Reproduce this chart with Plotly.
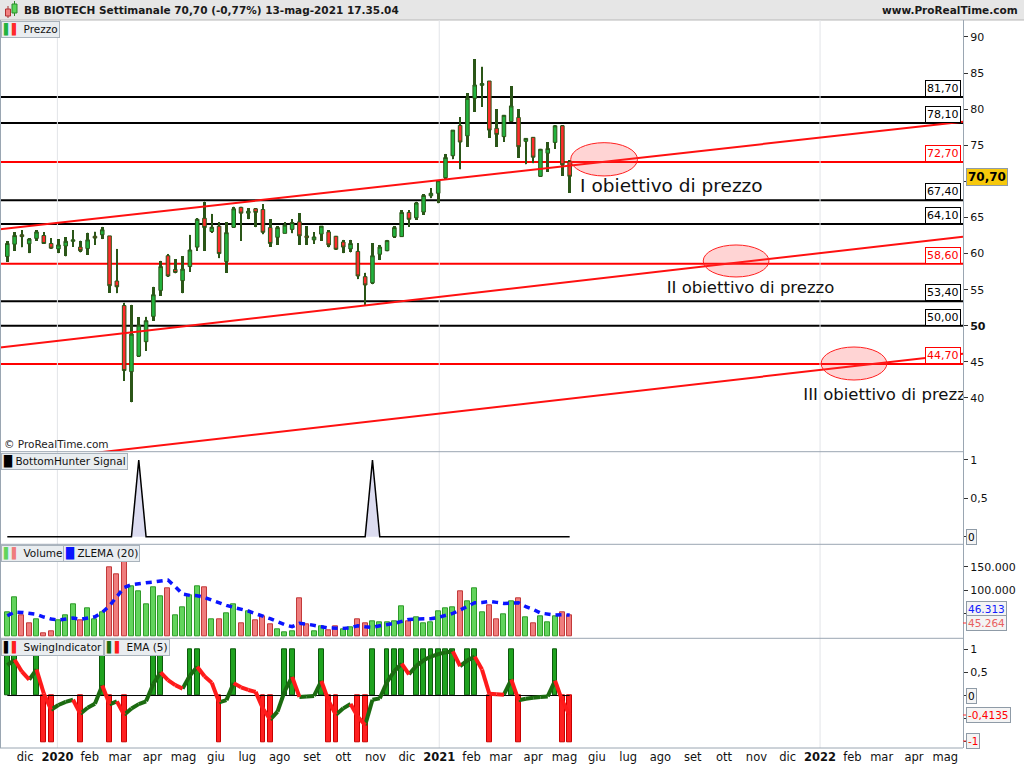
import plotly.graph_objects as go
import pandas as pd

# ---------------- data ----------------
dates = pd.date_range("2019-11-14", periods=78, freq="7D")

opens = [59.6, 61.3, 62.6, 61.35, 62.1, 62.5, 61.4, 60.65, 61.05, 61.7,
         60.9, 60.7, 62.4, 62.6, 62.45, 56.2, 52.8, 43.65, 45.8, 47.8,
         51.3, 54.9, 59.7, 57.8, 56.25, 58.2, 60.9, 64.9, 63.05, 63.8,
         58.9, 63.65, 66.4, 65.6, 66.2, 66.1, 63.6, 62.25, 62.8, 63.35,
         64.4, 62.45, 61.9, 62.7, 63.0, 62.4, 61.6, 60.65, 60.3, 56.8,
         55.95, 59.9, 60.4, 62.35, 62.35, 65.7, 64.95, 65.75, 68.0, 68.35,
         70.5, 73.55, 77.75, 76.3, 81.5, 83.3, 83.9, 77.35, 76.2, 78.3,
         78.85, 75.55, 76.1, 70.7, 73.9, 75.4, 77.7, 72.75]
highs = [61.75, 62.95, 63.25, 62.1, 63.25, 62.95, 62.1, 62.0, 62.25, 63.25,
         61.8, 62.9, 63.05, 63.7, 62.45, 60.65, 53.2, 52.9, 51.15, 51.25,
         55.4, 59.0, 59.95, 59.25, 59.65, 62.6, 64.9, 67.2, 65.5, 64.35,
         64.35, 66.5, 66.5, 66.25, 66.25, 66.85, 64.75, 63.8, 64.35, 64.75,
         65.6, 63.8, 62.95, 63.8, 63.2, 62.45, 61.9, 61.9, 61.4, 57.35,
         61.4, 61.2, 61.9, 63.8, 66.0, 66.0, 67.2, 68.25, 69.05, 70.1,
         73.8, 77.1, 78.85, 82.2, 86.95, 85.9, 83.9, 80.0, 79.2, 83.2,
         80.0, 75.95, 76.1, 74.5, 75.4, 77.8, 77.8, 72.95]
lows = [58.9, 60.4, 60.85, 60.05, 61.8, 61.35, 60.7, 60.05, 59.6, 60.95,
        60.15, 59.8, 61.2, 62.0, 54.6, 54.5, 42.4, 39.4, 45.7, 46.55,
        50.7, 54.15, 56.8, 57.25, 54.5, 57.5, 60.4, 60.4, 62.9, 59.35,
        57.35, 63.6, 61.8, 64.75, 63.65, 62.65, 60.95, 61.2, 62.8, 62.8,
        61.2, 61.2, 61.35, 61.8, 60.85, 60.5, 60.05, 60.15, 56.45, 52.9,
        55.75, 59.1, 60.3, 62.2, 62.3, 63.7, 64.7, 65.4, 67.65, 66.95,
        70.2, 73.05, 71.65, 74.8, 79.65, 80.35, 76.05, 74.8, 75.5, 78.2,
        73.3, 72.35, 72.5, 70.65, 71.35, 74.5, 70.75, 68.45]
closes = [61.4, 62.5, 62.35, 62.0, 63.0, 61.4, 60.75, 61.2, 61.7, 61.9,
          60.4, 61.9, 62.15, 63.3, 55.55, 55.4, 43.8, 48.85, 50.1, 50.7,
          54.3, 58.2, 56.9, 57.4, 57.85, 60.5, 64.75, 63.6, 63.65, 60.0,
          62.9, 66.2, 65.6, 65.85, 65.7, 62.95, 61.4, 63.6, 63.95, 64.3,
          62.45, 62.2, 62.3, 63.8, 61.2, 60.6, 60.9, 61.4, 56.9, 55.65,
          59.7, 60.9, 61.8, 63.6, 65.7, 64.75, 67.0, 68.05, 68.35, 70.1,
          73.3, 77.1, 75.45, 81.5, 83.35, 83.55, 77.1, 76.5, 79.15, 80.45,
          74.8, 75.95, 73.35, 74.45, 74.55, 77.7, 72.3, 70.7]
volumes = [52200, 84400, 46500, 28600, 37200, 7150, 11400, 35000, 45800, 69400,
           35000, 60800, 37200, 52200, 148700, 133700, 165000, 108000, 97200, 69400,
           105800, 86500, 103700, 45800, 62900, 88700, 108000, 105800, 37200, 37200,
           50000, 69400, 28600, 54300, 35000, 43600, 26500, 15700, 9300, 11400,
           82200, 26500, 11400, 22200, 13600, 22200, 15700, 20000, 37200, 28600,
           32900, 30700, 30700, 32900, 65100, 32900, 41500, 28600, 30700, 54300,
           60800, 62900, 97200, 75800, 103700, 52200, 67200, 37200, 47900, 75800,
           82200, 41500, 28600, 43600, 30700, 43600, 52200, 45264]
zlema = [45045, 52910, 52195, 50765, 47905, 42185, 37895, 35750, 38610, 40040,
         37180, 39325, 42900, 52195, 66495, 85800, 105820, 111540, 114400, 115830,
         117260, 120120, 121550, 107250, 91520, 88660, 87945, 84370, 78650, 71500,
         67210, 62920, 59345, 55055, 49335, 44330, 38610, 32175, 25740, 21450,
         28600, 27170, 23595, 21450, 18590, 17875, 17875, 19305, 23595, 21450,
         20020, 23595, 25740, 28600, 32890, 37180, 37895, 37895, 38610, 41470,
         45760, 50050, 57200, 65780, 72930, 73645, 75790, 73645, 71500, 72215,
         72930, 64350, 58630, 50765, 47905, 46475, 47190, 46313]
bottom_hunter = [0, 0, 0, 0, 0, 0, 0, 0, 0, 0,
                 0, 0, 0, 0, 0, 0, 0, 0, 1, 0,
                 0, 0, 0, 0, 0, 0, 0, 0, 0, 0,
                 0, 0, 0, 0, 0, 0, 0, 0, 0, 0,
                 0, 0, 0, 0, 0, 0, 0, 0, 0, 0,
                 1, 0, 0, 0, 0, 0, 0, 0, 0, 0,
                 0, 0, 0, 0, 0, 0, 0, 0, 0, 0,
                 0, 0, 0, 0, 0, 0, 0, 0]
swing = [1, 1, 0, 0, 1, -1, -1, 0, 0, 0,
         -1, 0, 0, 1, -1, 0, -1, 0, 0, 0,
         1, 1, 0, 0, 0, 1, 1, 0, 0, -1,
         0, 1, 0, 0, 0, -1, -1, 0, 1, 1,
         0, 0, 0, 1, -1, -1, 0, 0, -1, -1,
         1, 0, 1, 1, 1, 0, 1, 1, 1, 1,
         1, 1, 0, 1, 1, 0, -1, 0, 0, 1,
         -1, 0, 0, 0, 0, 1, -1, -1]
ema5 = [0.655, 0.770, 0.513, 0.342, 0.561, 0.041, -0.306, -0.204, -0.136, -0.091,
        -0.394, -0.262, -0.175, 0.217, -0.189, -0.126, -0.417, -0.278, -0.185, -0.124,
        0.251, 0.501, 0.334, 0.223, 0.148, 0.432, 0.621, 0.414, 0.276, -0.149,
        -0.100, 0.267, 0.178, 0.119, 0.079, -0.280, -0.520, -0.347, 0.102, 0.401,
        -0.030, -0.020, -0.010, 0.314, -0.124, -0.416, -0.277, -0.185, -0.457, -0.638,
        -0.092, -0.061, 0.293, 0.528, 0.685, 0.457, 0.638, 0.759, 0.839, 0.893,
        0.929, 0.953, 0.635, 0.757, 0.838, 0.559, 0.039, 0.026, 0.017, 0.345,
        -0.103, -0.069, -0.046, -0.031, -0.020, 0.320, -0.120, -0.4135]

levels_black = [81.70, 78.10, 67.40, 64.10, 53.40, 50.00]
levels_red = [72.70, 58.60, 44.70]

trend_lines = [
    (["2019-11-07", "2022-05-18"], [63.37, 78.27]),
    (["2019-11-07", "2022-05-18"], [47.00, 62.34]),
    (["2019-11-07", "2022-05-18"], [30.90, 46.14]),
]
target_ellipses = [
    ("2021-05-07", "2021-07-10", 70.75, 75.36),
    ("2021-09-11", "2021-11-13", 56.76, 61.19),
    ("2022-01-02", "2022-03-06", 42.49, 47.06),
]
target_labels = ["I obiettivo di prezzo", "II obiettivo di prezzo", "III obiettivo di prezzo"]
target_label_dates = ["2021-05-16", "2021-08-07", "2021-12-16"]
target_label_values = [69.22, 55.10, 40.28]
target_label_sizes = [18.5, 16.5, 16.5]

month_names = ["gen", "feb", "mar", "apr", "mag", "giu", "lug", "ago", "set", "ott", "nov", "dic"]
price_ticks = [40, 45, 50, 55, 60, 65, 70, 75, 80, 85, 90]

# ---------------- helpers (layout only) ----------------
FONT = "DejaVu Sans"
PW, PLOT_TOP, PLOT_BOT = 963.0, 20.0, 748.0
MS_PER_PX = 923.0 / PW * 86400000


def px2x(px):
    return px / PW


def py2y(py):
    return (PLOT_BOT - py) / (PLOT_BOT - PLOT_TOP)


fig = go.Figure()

# price: thick wicks drawn as thin bars from low to high, then candle bodies
fig.add_trace(go.Bar(x=dates, y=[h - l for h, l in zip(highs, lows)], base=lows,
                     width=2.6 * MS_PER_PX, xaxis="x", yaxis="y",
                     marker=dict(color="#2b5618", line=dict(width=0)), hoverinfo="skip"))
fig.add_trace(go.Candlestick(
    x=dates, open=opens, high=highs, low=lows, close=closes,
    xaxis="x", yaxis="y", whiskerwidth=0,
    increasing=dict(fillcolor="#22b33e", line=dict(color="#2b5618", width=1)),
    decreasing=dict(fillcolor="#ff2b2b", line=dict(color="#2b5618", width=1)),
    hoverinfo="skip"))

for xs, ys in trend_lines:
    fig.add_trace(go.Scatter(x=xs, y=ys, mode="lines", xaxis="x", yaxis="y",
                             line=dict(color="#ff1010", width=2), hoverinfo="skip"))

for txt, d, v, s in zip(target_labels, target_label_dates, target_label_values, target_label_sizes):
    fig.add_trace(go.Scatter(
        x=[d], y=[v], text=[txt], mode="text",
        textposition="middle right", cliponaxis=True, xaxis="x", yaxis="y",
        textfont=dict(family=FONT, size=s, color="#111111"), hoverinfo="skip"))

# BottomHunter
fig.add_trace(go.Scatter(x=dates, y=bottom_hunter, mode="lines", fill="tozeroy",
                         fillcolor="#dcdcf0", line=dict(color="#000000", width=1.5),
                         xaxis="x", yaxis="y2", hoverinfo="skip"))

# Volume
vol_fill, vol_line = [], []
for i, c in enumerate(closes):
    up = i == 0 or c >= closes[i - 1]
    vol_fill.append("#62d45c" if up else "#ef7d7d")
    vol_line.append("#2f9a2a" if up else "#c23a3a")
bar_w = 5.0 * MS_PER_PX
fig.add_trace(go.Bar(x=dates, y=volumes, width=bar_w, xaxis="x", yaxis="y3",
                     marker=dict(color=vol_fill, line=dict(color=vol_line, width=1)),
                     hoverinfo="skip"))
fig.add_trace(go.Scatter(x=dates, y=zlema, mode="lines", xaxis="x", yaxis="y3",
                         line=dict(color="#0a14ff", width=3.5, dash="6px,5px"),
                         hoverinfo="skip"))

# Swing indicator
sw_fill = ["#1fa31f" if v > 0 else ("#ff2020" if v < 0 else "rgba(0,0,0,0)") for v in swing]
sw_line = ["#0d5a0d" if v > 0 else ("#c80000" if v < 0 else "rgba(0,0,0,0)") for v in swing]
fig.add_trace(go.Bar(x=dates, y=swing, width=bar_w * 0.95, xaxis="x", yaxis="y4",
                     marker=dict(color=sw_fill, line=dict(color=sw_line, width=1)),
                     hoverinfo="skip"))
fig.add_trace(go.Scatter(x=dates, y=[0] * len(dates), mode="lines", xaxis="x", yaxis="y4",
                         line=dict(color="#000000", width=1), hoverinfo="skip"))
gx, gy, rx, ry = [], [], [], []
for i in range(1, len(ema5)):
    if ema5[i] >= ema5[i - 1]:
        gx += [dates[i - 1], dates[i], None]
        gy += [ema5[i - 1], ema5[i], None]
    else:
        rx += [dates[i - 1], dates[i], None]
        ry += [ema5[i - 1], ema5[i], None]
fig.add_trace(go.Scatter(x=gx, y=gy, mode="lines", xaxis="x", yaxis="y4",
                         line=dict(color="#1b6b10", width=4), hoverinfo="skip"))
fig.add_trace(go.Scatter(x=rx, y=ry, mode="lines", xaxis="x", yaxis="y4",
                         line=dict(color="#ff1a1a", width=4), hoverinfo="skip"))

# ---------------- shapes ----------------
shapes = []
shapes.append(dict(type="rect", xref="paper", yref="paper", x0=px2x(-2), x1=px2x(1026),
                   y0=py2y(20), y1=py2y(-2), fillcolor="#e6e6e6",
                   line=dict(color="#b8b8b8", width=1), layer="below"))
shapes.append(dict(type="line", xref="paper", yref="paper", x0=px2x(8), x1=px2x(8),
                   y0=py2y(18), y1=py2y(6), line=dict(color="#a03030", width=1)))
shapes.append(dict(type="rect", xref="paper", yref="paper", x0=px2x(5.5), x1=px2x(10.5),
                   y0=py2y(16), y1=py2y(9), fillcolor="#f08080", line=dict(color="#b03030", width=1)))
shapes.append(dict(type="line", xref="paper", yref="paper", x0=px2x(14.5), x1=px2x(14.5),
                   y0=py2y(16), y1=py2y(1), line=dict(color="#2a8a2a", width=1)))
shapes.append(dict(type="rect", xref="paper", yref="paper", x0=px2x(12), x1=px2x(17),
                   y0=py2y(13), y1=py2y(4), fillcolor="#5ad65a", line=dict(color="#2a8a2a", width=1)))

for v in levels_black:
    shapes.append(dict(type="line", xref="paper", yref="y", x0=0, x1=1, y0=v, y1=v,
                       line=dict(color="#000000", width=2), layer="below"))
for v in levels_red:
    shapes.append(dict(type="line", xref="paper", yref="y", x0=0, x1=1, y0=v, y1=v,
                       line=dict(color="#ff0000", width=2), layer="below"))
for x0, x1, y0, y1 in target_ellipses:
    shapes.append(dict(type="circle", xref="x", yref="y", x0=x0, x1=x1, y0=y0, y1=y1,
                       fillcolor="rgba(255,60,60,0.22)", line=dict(color="#ff2020", width=1)))
for d in ["2020-01-01", "2021-01-01", "2022-01-01"]:
    shapes.append(dict(type="line", xref="x", yref="paper", x0=d, x1=d, y0=0, y1=1,
                       line=dict(color="#e2e4e8", width=1), layer="below"))
for py in [451.7, 544.3, 638.3, 748]:
    shapes.append(dict(type="line", xref="paper", yref="paper", x0=0, x1=1,
                       y0=py2y(py), y1=py2y(py), line=dict(color="#9aa6b2", width=1)))
shapes.append(dict(type="line", xref="paper", yref="paper", x0=px2x(0.5), x1=px2x(0.5),
                   y0=0, y1=1, line=dict(color="#9aa6b2", width=1)))
for py in [623, 715, 741]:
    shapes.append(dict(type="line", xref="paper", yref="paper", x0=px2x(963), x1=px2x(968),
                       y0=py2y(py), y1=py2y(py), line=dict(color="#ff3030", width=1)))

# ---------------- annotations ----------------
ann = []
ann.append(dict(xref="paper", yref="paper", x=px2x(22), y=py2y(10), xanchor="left", yanchor="middle",
                showarrow=False, text="<b>BB BIOTECH Settimanale 70,70 (-0,77%) 13-mag-2021 17.35.04</b>",
                font=dict(family=FONT, size=10.5, color="#1a1a1a")))
ann.append(dict(xref="paper", yref="paper", x=px2x(1020), y=py2y(10), xanchor="right", yanchor="middle",
                showarrow=False, text="<b>www.ProRealTime.com</b>",
                font=dict(family=FONT, size=10.5, color="#1a1a1a")))


def legend_box(px, py, text):
    ann.append(dict(xref="paper", yref="paper", x=px2x(px), y=py2y(py), xanchor="left", yanchor="top",
                    showarrow=False, text=text, bgcolor="#e9edf0", bordercolor="#a9b3bc",
                    borderwidth=1, borderpad=1, font=dict(family=FONT, size=10.5, color="#111")))


legend_box(1, 21, "<span style='color:#22b33e'>▌</span><span style='color:#ff2b2b'>▌</span> Prezzo")
legend_box(1, 452.5, "<span style='color:#000'>█</span> BottomHunter Signal")
legend_box(1, 545, "<span style='color:#62d45c'>▌</span><span style='color:#ef7d7d'>▌</span> Volume")
legend_box(63, 545, "<span style='color:#0a14ff'>█</span> ZLEMA (20)")
legend_box(1, 639, "<span style='color:#000'>▌</span><span style='color:#ff2020'>▌</span> SwingIndicator")
legend_box(104, 639, "<span style='color:#1b6b10'>▌</span><span style='color:#ff1a1a'>▌</span> EMA (5)")

ann.append(dict(xref="paper", yref="paper", x=px2x(2), y=py2y(444), xanchor="left", yanchor="middle",
                showarrow=False, text="© ProRealTime.com", font=dict(family=FONT, size=10.5, color="#222")))

for v in levels_black + levels_red:
    col = "#000000" if v in levels_black else "#ff0000"
    ann.append(dict(xref="paper", yref="y", x=px2x(961), y=v, xanchor="right", yanchor="bottom",
                    showarrow=False, text=f"{v:.2f}".replace(".", ","), bgcolor="white",
                    bordercolor=col, borderwidth=1, borderpad=1,
                    font=dict(family=FONT, size=11, color=col)))


def axis_label(py, text, color, bg="#f4f4f4", bold=False, size=10.5):
    ann.append(dict(xref="paper", yref="paper", x=px2x(966), y=py2y(py), xanchor="left", yanchor="middle",
                    showarrow=False, text=f"<b>{text}</b>" if bold else text, bgcolor=bg,
                    bordercolor="#8f9ba7", borderwidth=1, borderpad=1,
                    font=dict(family=FONT, size=size, color=color)))


axis_label(176.5, "70,70", "#000", bg="#f6c80c", bold=True, size=12)
axis_label(537, "0", "#000")
axis_label(609, "46.313", "#1020ff")
axis_label(623, "45.264", "#e86060")
axis_label(696, "0", "#000")
axis_label(715, "-0,4135", "#ff0000")
axis_label(741, "-1", "#ff0000")

# ---------------- axes ----------------
tickvals, ticktext = [], []
for y in (2019, 2020, 2021, 2022):
    for m in range(1, 13):
        d = pd.Timestamp(year=y, month=m, day=1)
        if pd.Timestamp("2019-12-01") <= d <= pd.Timestamp("2022-05-01"):
            tickvals.append(d)
            ticktext.append(f"<b>{y}</b>" if m == 1 else month_names[m - 1])

yax_common = dict(side="right", anchor="x", showgrid=False, zeroline=False, showline=True,
                  linecolor="#9aa6b2", linewidth=1, ticks="outside", ticklen=4, tickcolor="#333",
                  tickfont=dict(family=FONT, size=11, color="#111"), fixedrange=True)

fig.update_layout(
    width=1024, height=768, margin=dict(l=0, r=61, t=20, b=20),
    paper_bgcolor="white", plot_bgcolor="white", showlegend=False,
    font=dict(family=FONT, size=10.5, color="#111"),
    bargap=0, barmode="overlay", shapes=shapes, annotations=ann,
    xaxis=dict(type="date", range=["2019-11-07", "2022-05-18"], anchor="y4",
               tickvals=tickvals, ticktext=ticktext, showgrid=False, zeroline=False,
               showline=False, ticks="", rangeslider=dict(visible=False), fixedrange=True,
               tickfont=dict(family=FONT, size=11.5, color="#111")),
    yaxis=dict(domain=[py2y(451.7), 1.0], range=[32.56, 92.35], tickvals=price_ticks,
               ticktext=[("<b>50</b>" if t == 50 else ("" if t == 70 else str(t))) for t in price_ticks],
               **yax_common),
    yaxis2=dict(domain=[py2y(544.3), py2y(451.7)], range=[-0.099, 1.108], tickvals=[0, 0.5, 1],
                ticktext=["", "0,5", "1"], **yax_common),
    yaxis3=dict(domain=[py2y(638.3), py2y(544.3)], range=[-3430, 198300],
                tickvals=[50000, 100000, 150000], ticktext=["", "100.000", "150.000"], **yax_common),
    yaxis4=dict(domain=[0, py2y(638.3)], range=[-1.131, 1.233], tickvals=[-1, -0.5, 0, 0.5, 1],
                ticktext=["", "", "", "0,5", "1"], **yax_common),
)

fig.write_html("out.html", config={"displayModeBar": False},
               post_script="document.body.style.margin='0px';")
